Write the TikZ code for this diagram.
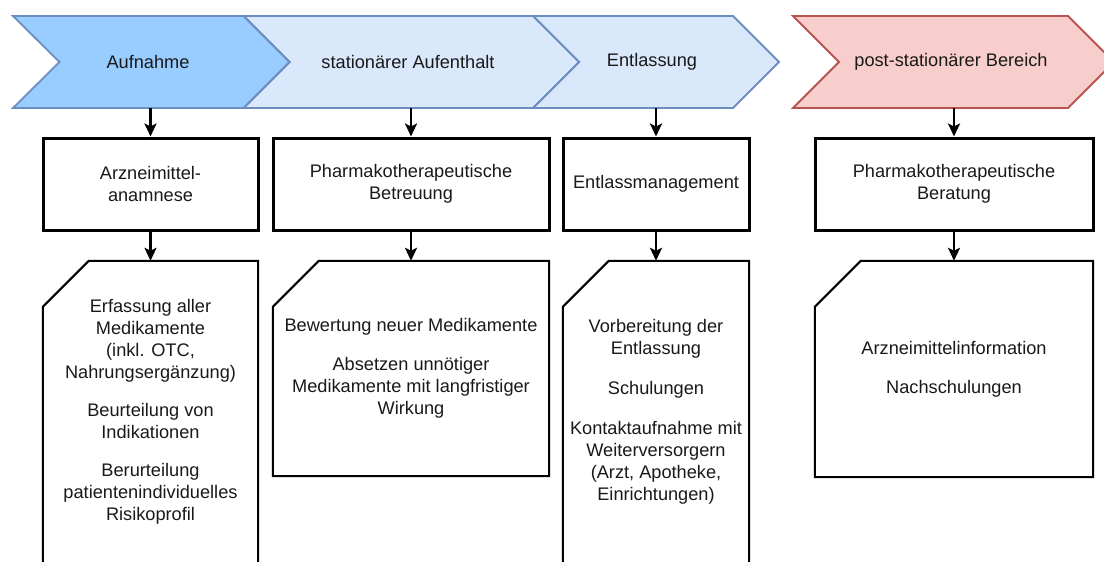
\documentclass[tikz,border=0pt]{standalone}
\usepackage{fontspec}
\setmainfont{Liberation Sans}
\usetikzlibrary{arrows.meta}
\definecolor{phaseA}{HTML}{99CCFF}
\definecolor{phaseB}{HTML}{DAE8FC}
\definecolor{phaseLine}{HTML}{6C8EBF}
\definecolor{postFill}{HTML}{F8CECC}
\definecolor{postLine}{HTML}{B85450}

\begin{document}
\begin{tikzpicture}[x=1pt,y=-1pt,
  every node/.style={font=\fontsize{18.2}{22}\selectfont, align=center, inner sep=0pt, text=black!90},
  chevtext/.style={minimum height=92pt},
  chevblue/.style={draw=phaseLine, line width=1.8pt},
  chevred/.style={draw=postLine, fill=postFill, line width=1.8pt},
  stepbox/.style={draw=black, line width=3pt, minimum height=92pt},
  cardbox/.style={},
  cardline/.style={draw=black, line width=2pt},
  arr/.style={line width=2.6pt, -{Stealth[length=13pt,width=12pt,inset=3pt]}},
  ]
\useasboundingbox (0,0) rectangle (1104,562);
\clip (0,0) rectangle (1104,562);

% phase chevrons
\path[chevblue, fill=phaseB] (533,16) -- (733,16) -- (779,62) -- (733,108) -- (533,108) -- (579,62) -- cycle;
\path[chevblue, fill=phaseB] (243.5,16) -- (533,16) -- (579,62) -- (533,108) -- (243.5,108) -- (289.5,62) -- cycle;
\path[chevblue, fill=phaseA] (13,16) -- (243.5,16) -- (289.5,62) -- (243.5,108) -- (13,108) -- (59.5,62) -- cycle;
\path[chevred] (793,16) -- (1068,16) -- (1114,62) -- (1068,108) -- (793,108) -- (839,62) -- cycle;

\node[chevtext] (p1) at (148,62) {Aufnahme};
\node[chevtext] (p2) at (408,62) {stationärer Aufenthalt};
\node[chevtext] (p3) at (652,62) {Entlassung};
\node[chevtext] (p4) at (951,62) {post-stationärer Bereich};

% service boxes
\node[stepbox, minimum width=215pt] (b1) at (150.5,184) {Arzneimittel-\\anamnese};
\node[stepbox, minimum width=276pt] (b2) at (411,184) {Pharmakotherapeutische\\Betreuung};
\node[stepbox, minimum width=186pt] (b3) at (656,184) {Entlassmanagement};
\node[stepbox, minimum width=278pt] (b4) at (954,184) {Pharmakotherapeutische\\Beratung};

% task cards
\node[cardbox, minimum width=215pt, minimum height=302pt] (c1) at (150.5,412)
  {Erfassung aller\\Medikamente\\(inkl. OTC,\\Nahrungsergänzung)\\[16pt]Beurteilung von\\Indikationen\\[16pt]Berurteilung\\patientenindividuelles\\Risikoprofil};
\node[cardbox, minimum width=276pt, minimum height=215pt] (c2) at (411,368.5)
  {Bewertung neuer Medikamente\\[17pt]Absetzen unnötiger\\Medikamente mit langfristiger\\Wirkung};
\node[cardbox, minimum width=186pt, minimum height=302pt] (c3) at (656,412)
  {Vorbereitung der\\Entlassung\\[18pt]Schulungen\\[18pt]Kontaktaufnahme mit\\Weiterversorgern\\(Arzt, Apotheke,\\Einrichtungen)};
\node[cardbox, minimum width=278pt, minimum height=216pt] (c4) at (954,369)
  {Arzneimittelinformation\\[17pt]Nachschulungen};

\foreach \c in {c1,c2,c3,c4}{
  \draw[cardline] ([xshift=46pt]\c.north west) -- (\c.north east) -- (\c.south east)
    -- (\c.south west) -- ([yshift=-46pt]\c.north west) -- cycle;
}

% connectors
\foreach \i in {1,2,3,4}{
  \draw[arr] (p\i.south -| b\i.north) -- (b\i.north);
  \draw[arr] (b\i.south) -- (c\i.north);
}
\end{tikzpicture}
\end{document}
